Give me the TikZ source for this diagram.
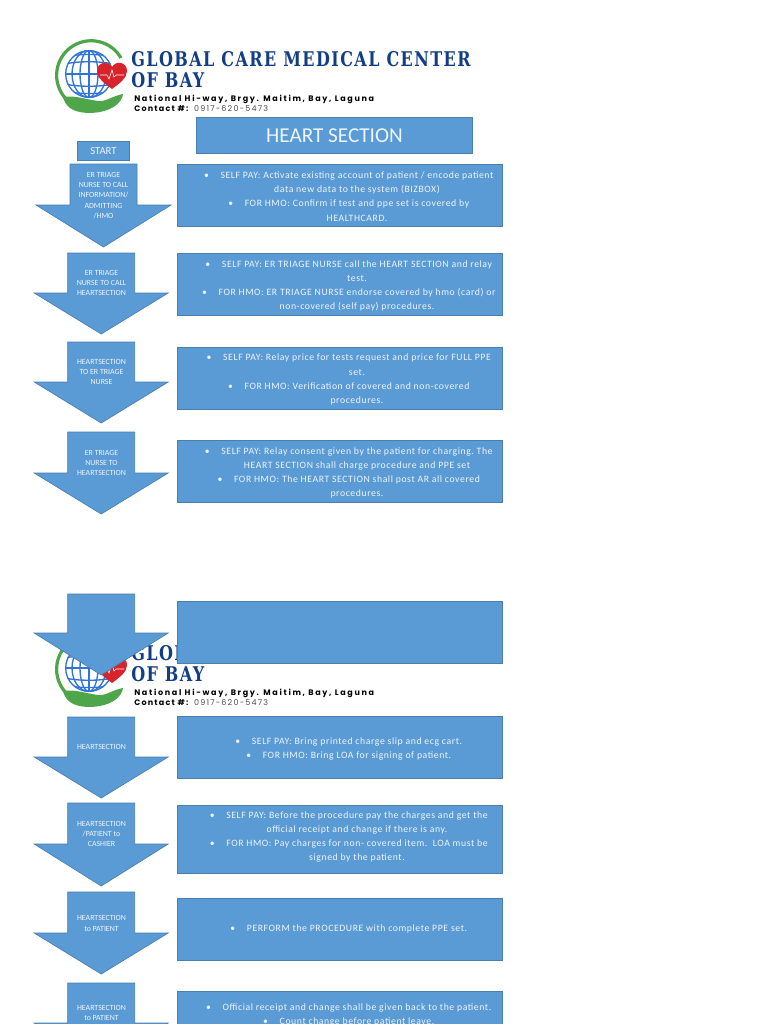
\documentclass[tikz,border=0pt]{standalone}
\usepackage{fontspec}
\setmainfont{Carlito}
\newfontfamily\logofont[FakeStretch=0.79,LetterSpace=7]{DejaVu Serif}
\newfontfamily\addrfont[LetterSpace=21]{Poppins}
\newfontfamily\telfont[LetterSpace=15]{Poppins}
\newfontfamily\bodyfont[LetterSpace=6]{Carlito}
\definecolor{boxfill}{HTML}{5B9BD5}
\definecolor{boxedge}{HTML}{41719C}
\definecolor{softwhite}{HTML}{EEF4FB}
\definecolor{logoblue}{HTML}{123F84}
\definecolor{globeblue}{HTML}{2F74D8}
\definecolor{ringgreen}{HTML}{4EA54A}
\definecolor{heartred}{HTML}{D8232A}
\newcommand{\ptfont}[1]{\fontsize{#1}{#1}\selectfont}
\newcommand{\itembul}{\llap{\textbullet\hspace{8.75pt}}}
\newcommand{\arrowshape}[4]{% centre x, top, head y, tip y
  \draw[flow] (#1-33.5,#2) -- (#1+33.5,#2) -- (#1+33.5,#3) -- (#1+67,#3) -- (#1,#4) -- (#1-67,#3) -- (#1-33.5,#3) -- cycle;
}
\newcommand{\logo}[2]{% prefix, y offset
  \begin{scope}[yshift=#2]
    \draw[ringgreen,line width=2.4pt] (121,58) arc[start angle=-30,end angle=-265,radius=34.5];
    \begin{scope}
      \clip (89,74) circle (24);
      \draw[globeblue,line width=1.2pt] (89,74) circle (23.5);
      \draw[globeblue,line width=1pt] (89,74) ellipse (9 and 23.5);
      \draw[globeblue,line width=1pt] (89,74) ellipse (17 and 23.5);
      \draw[globeblue,line width=1pt] (89,50) -- (89,98);
      \draw[globeblue,line width=1pt] (65,74) -- (113,74);
      \draw[globeblue,line width=1pt] (65,64) .. controls (78,61) and (100,61) .. (113,64);
      \draw[globeblue,line width=1pt] (65,84) .. controls (78,87) and (100,87) .. (113,84);
      \draw[globeblue,line width=1pt] (70,56) .. controls (80,54) and (98,54) .. (108,56);
      \draw[globeblue,line width=1pt] (70,92) .. controls (80,94) and (98,94) .. (108,92);
    \end{scope}
    \fill[ringgreen] (63,97) .. controls (74,95) and (84,99) .. (98,101) .. controls (106,102) and (112,96) .. (123,94) .. controls (122,103) and (112,109) .. (104,111) .. controls (94,114) and (78,114) .. (70,108) .. controls (66,105) and (64,101) .. (63,97) -- cycle;
    \fill[heartred] (112,89) .. controls (104,83) and (97,78) .. (97,71) .. controls (97,62) and (108,60) .. (112,67) .. controls (116,60) and (127,62) .. (127,71) .. controls (127,78) and (120,83) .. (112,89) -- cycle;
    \draw[white,line width=.45pt] (100,75) -- (107,75) -- (109,79) -- (112,70) -- (114,77) -- (116,75) -- (124,75);
    \node[logotitle] (#1title) at (131,59) {GLOBAL CARE MEDICAL CENTER};
    \node[logotitle] (#1bay) at (131,80.5) {OF BAY};
    \node[logoaddr] (#1addr) at (134,99.2) {\textbf{National Hi-way, Brgy. Maitim, Bay, Laguna}};
    \node[logoaddr,font=\telfont\ptfont{6}] (#1tel) at (134,108.2) {\textbf{Contact \#:} {\color{black!70}0917-620-5473}};
  \end{scope}
}
\tikzset{
  x=0.75pt,y=-0.75pt,
  flow/.style={fill=boxfill,draw=boxedge!70!boxfill,line width=.5pt},
  panel/.style={fill=boxfill,draw=boxedge!70!boxfill,line width=.6pt},
  logotitle/.style={anchor=west,inner sep=0pt,text=logoblue,font=\logofont\ptfont{15.2}\bfseries},
  logoaddr/.style={anchor=west,inner sep=0pt,font=\addrfont\ptfont{6}},
  itemtext/.style={inner sep=0pt,align=center,text=softwhite,font=\bodyfont\ptfont{7.3}\frenchspacing,execute at begin node={\setlength{\baselineskip}{10.65pt}}},
  flowtext/.style={inner sep=0pt,align=center,text=softwhite,font=\ptfont{5.9},execute at begin node={\setlength{\baselineskip}{7.75pt}}},
}
\begin{document}
\begin{tikzpicture}
\useasboundingbox (0,0) rectangle (768,1024);
\clip (0,0) rectangle (768,1024);
\fill[white] (0,0) rectangle (768,1024);
\logo{a}{0pt}
\logo{b}{-445.5pt}
\node[panel,minimum width=207.5pt,minimum height=26.5pt,inner sep=0pt,text=softwhite,font=\ptfont{15.9}] (head) at (334.5,135.5) {HEART SECTION};
\node[panel,minimum width=39.5pt,minimum height=14.7pt,inner sep=0pt,text=softwhite,font=\ptfont{8}] (start) at (103.5,151) {START};
\draw[flow] (70,164) -- (137,164) -- (137,205) -- (171,205) -- (103.5,247) -- (36,205) -- (70,205) -- cycle;
\arrowshape{101.2}{253}{293}{334}
\arrowshape{101.2}{342}{382}{423}
\arrowshape{101.2}{432}{473}{514}
\arrowshape{101.2}{594}{633}{675}
\arrowshape{101.2}{717}{757}{798}
\arrowshape{101.2}{803}{844}{886}
\arrowshape{101.2}{892}{933}{974}
\arrowshape{101.2}{983}{1023}{1065}
\draw[panel] (177,164) rectangle (502.7,226);
\draw[panel] (177,253) rectangle (502.7,315);
\draw[panel] (177,347) rectangle (502.7,409);
\draw[panel] (177,440) rectangle (502.7,502);
\draw[panel] (177,601) rectangle (502.7,663);
\draw[panel] (177,716.7) rectangle (502.7,778.7);
\draw[panel] (177,805) rectangle (502.7,873);
\draw[panel] (177,898) rectangle (502.7,960);
\draw[panel] (177,991) rectangle (502.7,1100);
\node[flowtext] (f1) at (103.5,195.5) {ER TRIAGE\\NURSE TO CALL\\INFORMATION/\\ADMITTING\\/HMO};
\node[flowtext] (f2) at (101.5,283) {ER TRIAGE\\NURSE TO CALL\\HEARTSECTION};
\node[flowtext] (f3) at (101.5,372) {HEARTSECTION\\TO ER TRIAGE\\NURSE};
\node[flowtext] (f4) at (101.5,463) {ER TRIAGE\\NURSE TO\\HEARTSECTION};
\node[flowtext] (f6) at (101.5,747) {HEARTSECTION};
\node[flowtext] (f7) at (101.5,834) {HEARTSECTION\\/PATIENT to\\CASHIER};
\node[flowtext] (f8) at (101.5,923.5) {HEARTSECTION\\to PATIENT};
\node[flowtext,anchor=north] (f9) at (101.5,1005) {HEARTSECTION\\to PATIENT};
\node[itemtext] (t1) at (357,196.5) {\itembul SELF PAY: Activate existing account of patient / encode patient\\data new data to the system (BIZBOX)\\\itembul FOR HMO: Confirm if test and ppe set is covered by\\HEALTHCARD.};
\node[itemtext] (t2) at (357,285.8) {\itembul SELF PAY: ER TRIAGE NURSE call the HEART SECTION and relay\\test.\\\itembul FOR HMO: ER TRIAGE NURSE endorse covered by hmo (card) or\\non-covered (self pay) procedures.};
\node[itemtext] (t3) at (357,379.6) {\itembul SELF PAY: Relay price for tests request and price for FULL PPE\\set.\\\itembul FOR HMO: Verification of covered and non-covered\\procedures.};
\node[itemtext] (t4) at (357,472.8) {\itembul SELF PAY: Relay consent given by the patient for charging. The\\HEART SECTION shall charge procedure and PPE set\\\itembul FOR HMO: The HEART SECTION shall post AR all covered\\procedures.};
\node[itemtext] (t6) at (357,748.6) {\itembul SELF PAY: Bring printed charge slip and ecg cart.\\\itembul FOR HMO: Bring LOA for signing of patient.};
\node[itemtext] (t7) at (357,836.8) {\itembul SELF PAY: Before the procedure pay the charges and get the\\official receipt and change if there is any.\\\itembul FOR HMO: Pay charges for non- covered item.\ \ LOA must be\\signed by the patient.};
\node[itemtext] (t8) at (357,929) {\itembul PERFORM the PROCEDURE with complete PPE set.};
\node[itemtext,anchor=north] (t9) at (357,1003) {\itembul Official receipt and change shall be given back to the patient.\\\itembul Count change before patient leave.};
\end{tikzpicture}
\end{document}
